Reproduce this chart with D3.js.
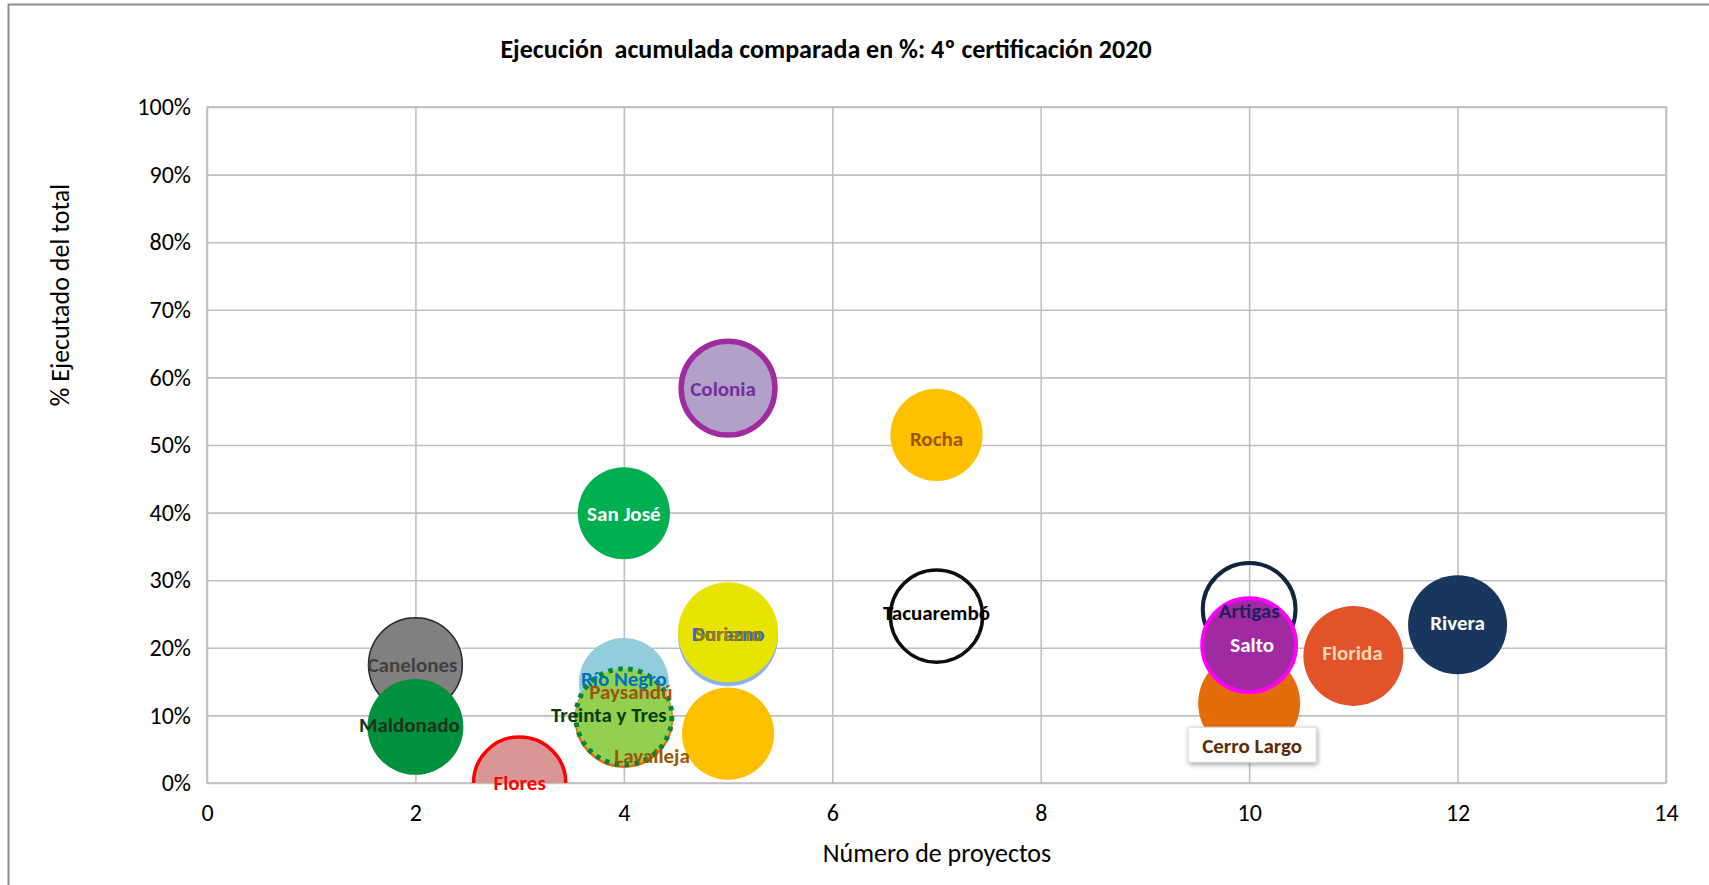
<!DOCTYPE html>
<html>
<head>
<meta charset="utf-8">
<script src="https://cdn.jsdelivr.net/npm/d3@7"></script>
<style>
  body { margin: 0; background: #fff; }
  svg { display: block; font-family: Carlito, Lato, "Open Sans", sans-serif; }
</style>
</head>
<body>
<svg id="chart" width="1709" height="885"></svg>
<script>
// data, in drawing order (later ones sit on top)
let departments = ["Canelones", "Maldonado", "Flores", "San José", "Río Negro", "Paysandú", "Treinta y Tres",
	"Colonia", "Durazno", "Soriano", "Lavalleja", "Rocha", "Tacuarembó", "Artigas", "Cerro Largo", "Salto", "Florida", "Rivera"];
let projects = [2, 2, 3, 4, 4, 4, 4, 5, 5, 5, 5, 7, 7, 10, 10, 10, 11, 12];
let executed = [0.175, 0.083, 0.0, 0.399, 0.148, 0.095, 0.098, 0.584, 0.217, 0.223, 0.073, 0.515, 0.247, 0.257, 0.118, 0.204, 0.188, 0.234];
let bubbleSize = [88, 92, 85, 85, 81, 92, 92, 88, 100, 100, 85, 85, 85, 86, 104, 88, 100, 98];

let xTicks = [0, 2, 4, 6, 8, 10, 12, 14];
let yTicks = [0, 0.1, 0.2, 0.3, 0.4, 0.5, 0.6, 0.7, 0.8, 0.9, 1];

// looks per department
let fills = ["#808080", "#00913F", "#DA9694", "#00B050", "#92CDDC", "#F79646", "#92D050",
	"#B1A0C7", "#8DB4E2", "#E8E400", "#FFC000", "#FFC000", "none", "none", "#E46C0A", "#A02BA0", "#E2532A", "#17375E"];
let strokes = ["#262626", "none", "#FF0000", "none", "none", "#E46C0A", "#00863D",
	"#A02BA0", "none", "none", "none", "none", "#0D0D0D", "#0F243E", "none", "#FF00FF", "none", "none"];
let strokeWidths = [1.5, 0, 3.5, 0, 0, 2.5, 5, 5.5, 0, 0, 0, 0, 3.5, 4, 0, 4, 0, 0];
let labelColors = ["#404040", "#1E3219", "#FF0000", "#FFFFFF", "#0070C0", "#A0520F", "#0A3D0A",
	"#7030A0", "#1F6FD0", "#9C7A00", "#9C5700", "#9C5700", "#000000", "#1F1F5C", "#5C2A00", "#FFFFFF", "#FCD5B4", "#FFFFFF"];
let labelDx = [-3, -6, 0, 0, 0, 7, -15, -5, 0, 0, -76, 0, 0, 0, 3, 3, -1, 0];
let labelDy = [0, -2, 0, 0, -4, -27, -2, 0, -3, 1, 22, 4, -3, 1, 42, 0, -3, -2];

let svg = d3.select("#chart");
let W = +svg.attr("width");
let H = +svg.attr("height");

let mLeft = 207, mRight = 1666, mTop = 107, mBottom = 783;

let x = d3.scaleLinear().domain([0, 14]).range([mLeft, mRight]);
let y = d3.scaleLinear().domain([0, 1]).range([mBottom, mTop]);
let r = d3.scaleSqrt().domain([0, 100]).range([0, 50]);

// outer chart frame (only top and left edges fall inside the picture)
svg.append("rect")
	.attr("x", 8.5).attr("y", 4.5)
	.attr("width", W + 50).attr("height", H + 50)
	.attr("fill", "none").attr("stroke", "#8C8C8C").attr("stroke-width", 2);

// gridlines + tick labels
let yAxis = svg.append("g")
	.attr("transform", "translate(" + mLeft + ",0)")
	.call(d3.axisLeft(y).tickValues(yTicks).tickFormat(d3.format(".0%")).tickSize(-(mRight - mLeft)).tickPadding(16));

let xAxis = svg.append("g")
	.attr("transform", "translate(0," + mBottom + ")")
	.call(d3.axisBottom(x).tickValues(xTicks).tickFormat(d3.format("d")).tickSize(-(mBottom - mTop)).tickPadding(21));

[yAxis, xAxis].forEach(a => {
	a.select(".domain").remove();
	a.selectAll(".tick line").attr("stroke", "#C0C0C0").attr("stroke-width", 1.6);
	a.selectAll(".tick text").attr("fill", "#000").style("font-size", "24px").style("font-family", "Carlito, Lato, sans-serif");
});

svg.append("rect")
	.attr("x", mLeft).attr("y", mTop)
	.attr("width", mRight - mLeft).attr("height", mBottom - mTop)
	.attr("fill", "none").attr("stroke", "#C0C0C0").attr("stroke-width", 1.6);

let defs = svg.append("defs");

// bubbles are cut at the 0% line, labels a little below it
defs.append("clipPath").attr("id", "bubbleClip")
	.append("rect").attr("x", mLeft).attr("y", mTop - 60).attr("width", mRight - mLeft).attr("height", mBottom - mTop + 60);
defs.append("clipPath").attr("id", "labelClip")
	.append("rect").attr("x", mLeft).attr("y", mTop - 60).attr("width", mRight - mLeft).attr("height", mBottom - mTop + 69);

let shadow = defs.append("filter").attr("id", "boxShadow").attr("x", "-20%").attr("y", "-40%").attr("width", "140%").attr("height", "180%");
shadow.append("feDropShadow").attr("dx", 1).attr("dy", 2).attr("stdDeviation", 2.5).attr("flood-color", "#000").attr("flood-opacity", 0.35);

let pts = departments.map((d, i) => ({
	name: d, px: projects[i], pe: executed[i], size: bubbleSize[i],
	fill: fills[i], stroke: strokes[i], sw: strokeWidths[i],
	lc: labelColors[i], dx: labelDx[i], dy: labelDy[i]
}));

let bubbles = svg.append("g").attr("clip-path", "url(#bubbleClip)");
let labels = svg.append("g").attr("clip-path", "url(#labelClip)");

bubbles.selectAll("circle.bubble")
	.data(pts)
	.join("circle")
	.attr("class", "bubble")
	.attr("cx", d => x(d.px))
	.attr("cy", d => y(d.pe))
	.attr("r", d => r(d.size))
	.attr("fill", d => d.fill)
	.attr("stroke", d => d.stroke)
	.attr("stroke-width", d => d.sw)
	.attr("stroke-dasharray", d => d.name == "Treinta y Tres" ? "4.5,5.5" : null);

// boxed label for Cerro Largo
let cl = pts.find(d => d.name == "Cerro Largo");
labels.append("rect")
	.attr("x", x(cl.px) + cl.dx - 64)
	.attr("y", y(cl.pe) + cl.dy - 18)
	.attr("width", 128).attr("height", 35)
	.attr("fill", "#fff").attr("stroke", "#D9D9D9")
	.attr("filter", "url(#boxShadow)");

labels.selectAll("text.lbl")
	.data(pts)
	.join("text")
	.attr("class", "lbl")
	.attr("x", d => x(d.px) + d.dx)
	.attr("y", d => y(d.pe) + d.dy)
	.attr("dy", "0.35em")
	.attr("text-anchor", "middle")
	.attr("fill", d => d.lc)
	.style("font-size", "21px")
	.style("font-weight", "bold")
	.text(d => d.name);

// titles
svg.append("text")
	.attr("x", 826).attr("y", 49).attr("dy", "0.35em")
	.attr("text-anchor", "middle")
	.attr("xml:space", "preserve")
	.style("font-size", "26px").style("font-weight", "bold")
	.text("Ejecución  acumulada comparada en %: 4º certificación 2020");

svg.append("text")
	.attr("x", 937).attr("y", 853).attr("dy", "0.35em")
	.attr("text-anchor", "middle")
	.style("font-size", "26px")
	.text("Número de proyectos");

svg.append("text")
	.attr("transform", "translate(60,295) rotate(-90)")
	.attr("dy", "0.35em")
	.attr("text-anchor", "middle")
	.style("font-size", "26px")
	.text("% Ejecutado del total");
</script>
</body>
</html>
